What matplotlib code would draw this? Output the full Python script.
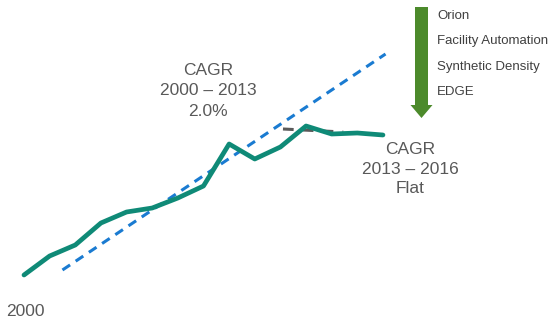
import matplotlib
matplotlib.use("Agg")
import matplotlib.pyplot as plt
from matplotlib.patches import FancyArrow

plt.rcParams['font.family'] = ['Liberation Sans', 'DejaVu Sans']

# data (relative index values)
years = list(range(2000, 2015))
values = [5.1, 7.0, 8.1, 10.3, 11.4, 11.8, 12.8, 14.0, 18.2, 16.7, 17.9, 20.0, 19.2, 19.3, 19.1]
trend_x = [2001.5, 2014.1]
trend_y = [5.6, 27.2]
flat_x = [2010.1, 2012.45]
flat_y = [19.7, 19.4]
programs = ["Orion", "Facility Automation", "Synthetic Density", "EDGE"]

W, H = 548, 326
fig = plt.figure(figsize=(W / 100, H / 100), dpi=100)
ax = fig.add_axes([0, 0, 1, 1])
px = 25.64
ax.set_xlim(2000 - 24 / px, 2000 + (W - 24) / px)
ax.set_ylim(0, 32.6)
ax.axis('off')

grey = '#595959'
ax.plot(trend_x, trend_y, color='#1a7bd1', lw=2.2, ls=(0, (3, 2.2)), zorder=2)
ax.plot(flat_x, flat_y, color='#5a5a5a', lw=2.2, ls=(0, (3.5, 3)), zorder=2)
ax.plot(years, values, color='#0f8a77', lw=3.4, solid_capstyle='round',
        solid_joinstyle='round', zorder=3)

ax.text(208 / W, 1 - 91 / H, "CAGR\n2000 \u2013 2013\n2.0%", transform=ax.transAxes,
        ha='center', va='center', fontsize=12.5, color=grey, linespacing=1.42)
ax.text(410 / W, 1 - 169 / H, "CAGR\n2013 \u2013 2016\nFlat", transform=ax.transAxes,
        ha='center', va='center', fontsize=12.5, color=grey, linespacing=1.38)
ax.text(25 / W, 1 - 311 / H, "2000", transform=ax.transAxes,
        ha='center', va='center', fontsize=12.5, color=grey)

# green arrow, drawn in pixel-ish figure fractions
arr = FancyArrow(421.5 / W, 1 - 7 / H, 0, -(111 / H), width=13 / W,
                 head_width=22 / W, head_length=13 / H, length_includes_head=True,
                 transform=fig.transFigure, color='#4c8a2b', lw=0)
fig.patches.append(arr)

for i, name in enumerate(programs):
    fig.text(437 / W, 1 - (16 + i * 25.3) / H, name, ha='left', va='center',
             fontsize=9.5, color='#404040')

fig.savefig("out.png", dpi=100)
